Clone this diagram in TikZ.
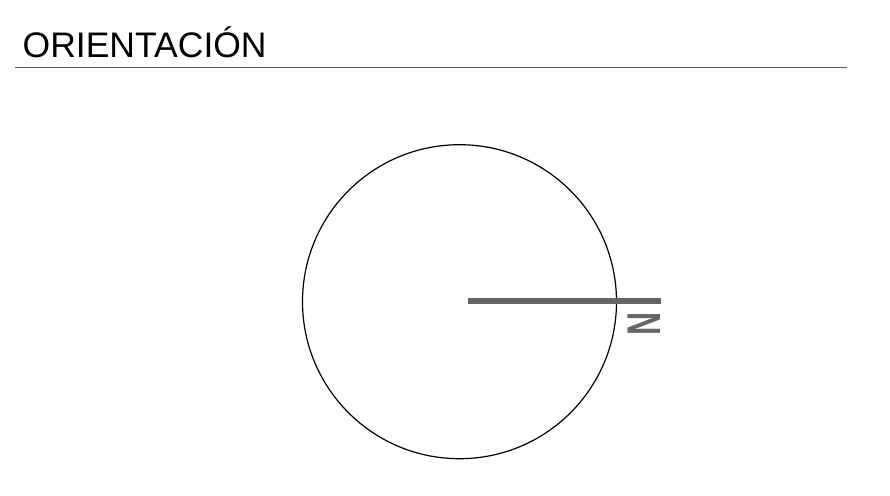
\documentclass[tikz,border=0pt]{standalone}
\usepackage{fontspec}
\setmainfont{Liberation Sans}
\definecolor{needle}{RGB}{102,102,102}
\definecolor{rule}{RGB}{90,90,90}
\begin{document}
\begin{tikzpicture}[x=1pt,y=-1pt,
  title/.style={anchor=base west,inner sep=0pt,font=\fontsize{35.5}{40}\selectfont},
  northlabel/.style={rotate=90,inner sep=0pt,text=needle,font=\bfseries\fontsize{32}{36}\selectfont}]
\useasboundingbox (0,0) rectangle (890,495);
\node[title] (t) at (22.5,57.3) {ORIENTACIÓN};
\coordinate (l1) at (15,67);
\coordinate (l2) at (847,67);
\draw[rule,line width=1pt] (l1) -- (l2);
\coordinate (c) at (459.5,301.7);
\draw[black,line width=1.2pt] (c) circle[radius=157];
\coordinate (n0) at (468.3,301);
\coordinate (n1) at (661,301);
\draw[needle,line width=6.5pt] (n0) -- (n1);
\node[northlabel] (N) at (643.7,324) {\scalebox{1}[1.48]{N}};
\end{tikzpicture}
\end{document}
